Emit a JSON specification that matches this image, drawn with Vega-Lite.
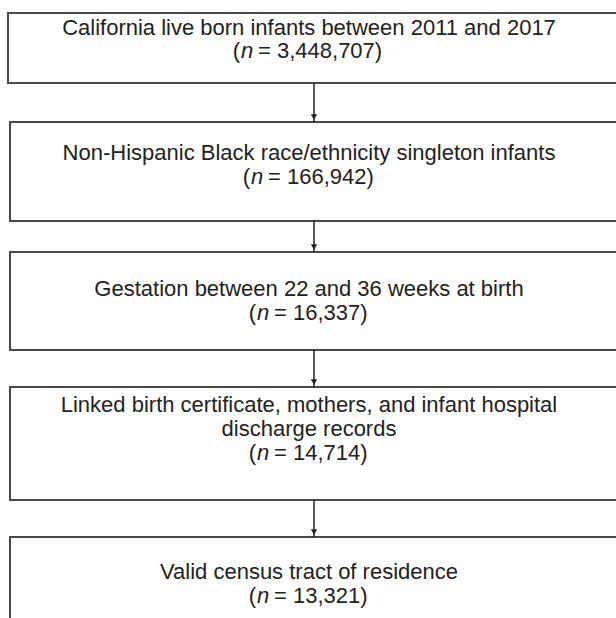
{
  "$schema": "https://vega.github.io/schema/vega-lite/v6.json",
  "width": 616,
  "height": 618,
  "autosize": {"type": "fit", "contains": "padding"},
  "padding": 0,
  "background": "#ffffff",
  "config": {"view": {"stroke": null}},
  "datasets": {
    "boxes": [
      {"step": 1, "left": 8, "right": 640, "top": 13, "bottom": 83},
      {"step": 2, "left": 10, "right": 640, "top": 122, "bottom": 221},
      {"step": 3, "left": 10, "right": 640, "top": 252, "bottom": 350},
      {"step": 4, "left": 10, "right": 640, "top": 387, "bottom": 500},
      {"step": 5, "left": 10, "right": 640, "top": 537, "bottom": 680}
    ],
    "arrows": [
      {"x": 314, "from": 83, "to": 122},
      {"x": 314, "from": 221, "to": 252},
      {"x": 314, "from": 350, "to": 387},
      {"x": 314, "from": 500, "to": 537}
    ],
    "labels": [
      {"x": 309, "y": 28, "text": "California live born infants between 2011 and 2017"},
      {"x": 309, "y": 153, "text": "Non-Hispanic Black race/ethnicity singleton infants"},
      {"x": 309, "y": 289, "text": "Gestation between 22 and 36 weeks at birth"},
      {"x": 309, "y": 405, "text": "Linked birth certificate, mothers, and infant hospital"},
      {"x": 309, "y": 429, "text": "discharge records"},
      {"x": 309, "y": 572, "text": "Valid census tract of residence"}
    ],
    "counts": [
      {"x": 241, "y": 51, "rest": "= 3,448,707)"},
      {"x": 251, "y": 177, "rest": "= 166,942)"},
      {"x": 257, "y": 313, "rest": "= 16,337)"},
      {"x": 257, "y": 453, "rest": "= 14,714)"},
      {"x": 257, "y": 596, "rest": "= 13,321)"}
    ]
  },
  "layer": [
    {
      "data": {"name": "boxes"},
      "mark": {"type": "rect", "fill": null, "stroke": "#4a4a4a", "strokeWidth": 2, "clip": true},
      "encoding": {
        "x": {"field": "left", "type": "quantitative", "scale": {"domain": [0, 616], "nice": false, "zero": false}, "axis": null},
        "x2": {"field": "right"},
        "y": {"field": "top", "type": "quantitative", "scale": {"domain": [618, 0], "nice": false, "zero": false}, "axis": null},
        "y2": {"field": "bottom"}
      }
    },
    {
      "data": {"name": "arrows"},
      "mark": {"type": "rule", "stroke": "#222222", "strokeWidth": 1.5},
      "encoding": {
        "x": {"field": "x", "type": "quantitative"},
        "y": {"field": "from", "type": "quantitative"},
        "y2": {"field": "to"}
      }
    },
    {
      "data": {"name": "arrows"},
      "mark": {"type": "point", "shape": "triangle-down", "filled": true, "color": "#222222", "size": 40, "opacity": 1, "yOffset": -5},
      "encoding": {
        "x": {"field": "x", "type": "quantitative"},
        "y": {"field": "to", "type": "quantitative"}
      }
    },
    {
      "data": {"name": "labels"},
      "mark": {"type": "text", "font": "Liberation Sans", "fontSize": 22, "color": "#222222", "align": "center", "baseline": "middle"},
      "encoding": {
        "x": {"field": "x", "type": "quantitative"},
        "y": {"field": "y", "type": "quantitative"},
        "text": {"field": "text"}
      }
    },
    {
      "data": {"name": "counts"},
      "mark": {"type": "text", "font": "Liberation Sans", "fontSize": 22, "color": "#222222", "align": "right", "baseline": "middle", "text": "(", "dx": -1},
      "encoding": {
        "x": {"field": "x", "type": "quantitative"},
        "y": {"field": "y", "type": "quantitative"}
      }
    },
    {
      "data": {"name": "counts"},
      "mark": {"type": "text", "font": "Liberation Sans", "fontSize": 22, "fontStyle": "italic", "color": "#222222", "align": "left", "baseline": "middle", "text": "n"},
      "encoding": {
        "x": {"field": "x", "type": "quantitative"},
        "y": {"field": "y", "type": "quantitative"}
      }
    },
    {
      "data": {"name": "counts"},
      "mark": {"type": "text", "font": "Liberation Sans", "fontSize": 22, "color": "#222222", "align": "left", "baseline": "middle", "dx": 17},
      "encoding": {
        "x": {"field": "x", "type": "quantitative"},
        "y": {"field": "y", "type": "quantitative"},
        "text": {"field": "rest"}
      }
    }
  ]
}
